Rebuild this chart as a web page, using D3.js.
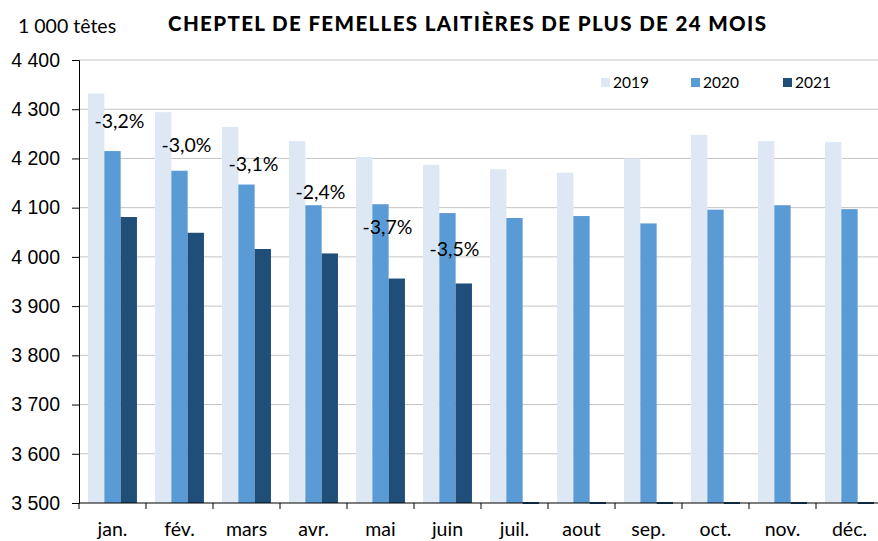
<!DOCTYPE html>
<html>
<head>
<meta charset="utf-8">
<script src="https://cdn.jsdelivr.net/npm/d3@7"></script>
<style>
  body { margin: 0; background: #fff; }
  svg { font-family: Lato, "Open Sans", sans-serif; }
</style>
</head>
<body>
<svg id="chart" width="878" height="541"></svg>
<script>
// donnees (milliers de tetes)
var months = ['jan.','fév.','mars','avr.','mai','juin','juil.','aout','sep.','oct.','nov.','déc.']
var years = ['2019','2020','2021']
var v2019 = [4332, 4294, 4264, 4235, 4203, 4187, 4178, 4171, 4200, 4248, 4235, 4233]
var v2020 = [4215, 4175, 4147, 4105, 4107, 4089, 4079, 4083, 4068, 4096, 4105, 4097]
var v2021 = [4081, 4049, 4016, 4007, 3956, 3946, null, null, null, null, null, null]
var evol = ['-3,2%','-3,0%','-3,1%','-2,4%','-3,7%','-3,5%']
var evolAt = [4276, 4227, 4189, 4132, 4061, 4016]
var yTicks = [3500, 3600, 3700, 3800, 3900, 4000, 4100, 4200, 4300, 4400]
var colors = {'2019': '#dde8f4', '2020': '#5b9bd5', '2021': '#1f4e79'}

var series = {'2019': v2019, '2020': v2020, '2021': v2021}

var svg = d3.select('#chart')
var mLeft = 79, mRight = 883, mTop = 60, mBottom = 503

var x = d3.scaleBand().domain(months).range([mLeft, mRight]).padding(0)
var x1 = d3.scaleBand().domain(years)
  .range([x.bandwidth() * 0.135, x.bandwidth() * 0.865]).padding(0)
var y = d3.scaleLinear().domain([3500, 4400]).range([mBottom, mTop])

var fmt = function(d) { return d3.format(',')(d).replace(',', ' ') }

// grille
svg.append('g').selectAll('line').data(yTicks.slice(1)).join('line')
  .attr('x1', mLeft).attr('x2', 878)
  .attr('y1', d => y(d)).attr('y2', d => y(d))
  .attr('stroke', '#c4c4c4').attr('stroke-width', 1)

// barres
years.forEach(function(yr) {
  svg.append('g').selectAll('rect').data(months).join('rect')
    .attr('x', (m) => x(m) + x1(yr))
    .attr('width', x1.bandwidth())
    .attr('y', (m, i) => series[yr][i] == null ? mBottom - 1 : y(series[yr][i]))
    .attr('height', (m, i) => series[yr][i] == null ? 2 : mBottom - y(series[yr][i]))
    .attr('fill', colors[yr])
})

// axe y
var yAxis = svg.append('g').attr('transform', 'translate(' + mLeft + ',0)')
  .call(d3.axisLeft(y).tickValues(yTicks).tickFormat(fmt).tickSize(7).tickPadding(12))
yAxis.select('.domain').attr('stroke', '#000')
yAxis.selectAll('.tick line').attr('stroke', '#000')
yAxis.selectAll('text').attr('font-size', 19.5).attr('fill', '#000')

// axe x
svg.append('line').attr('x1', mLeft).attr('x2', 878).attr('y1', mBottom).attr('y2', mBottom)
  .attr('stroke', '#000').attr('stroke-width', 1.2)
svg.append('g').selectAll('line').data(months).join('line')
  .attr('x1', m => x(m)).attr('x2', m => x(m))
  .attr('y1', mBottom).attr('y2', mBottom + 6)
  .attr('stroke', '#000')
svg.append('g').selectAll('text').data(months).join('text')
  .attr('x', m => x(m) + x.bandwidth() / 2)
  .attr('y', 536)
  .attr('text-anchor', 'middle')
  .attr('font-size', 19.5)
  .text(m => m)

// evolutions
svg.append('g').selectAll('text').data(evol).join('text')
  .attr('x', (d, i) => x(months[i]) + x.bandwidth() / 2 + 7)
  .attr('y', (d, i) => y(evolAt[i]) + 7)
  .attr('text-anchor', 'middle')
  .attr('font-size', 19.5)
  .text(d => d)

// legende
var legX = [601, 691, 783]
var leg = svg.append('g').selectAll('g').data(years).join('g')
  .attr('transform', (d, i) => 'translate(' + legX[i] + ',78)')
leg.append('rect').attr('width', 9).attr('height', 9).attr('fill', d => colors[d])
leg.append('text').attr('x', 12).attr('y', 10).attr('font-size', 15.5).text(d => d)

// titres
svg.append('text').attr('x', 18).attr('y', 33).attr('font-size', 19.5).text('1 000 têtes')
svg.append('text').attr('x', 168).attr('y', 31).attr('font-size', 20.5)
  .attr('font-weight', 900).attr('textLength', 598).attr('lengthAdjust', 'spacing')
  .text('CHEPTEL DE FEMELLES LAITIÈRES DE PLUS DE 24 MOIS')
</script>
</body>
</html>
